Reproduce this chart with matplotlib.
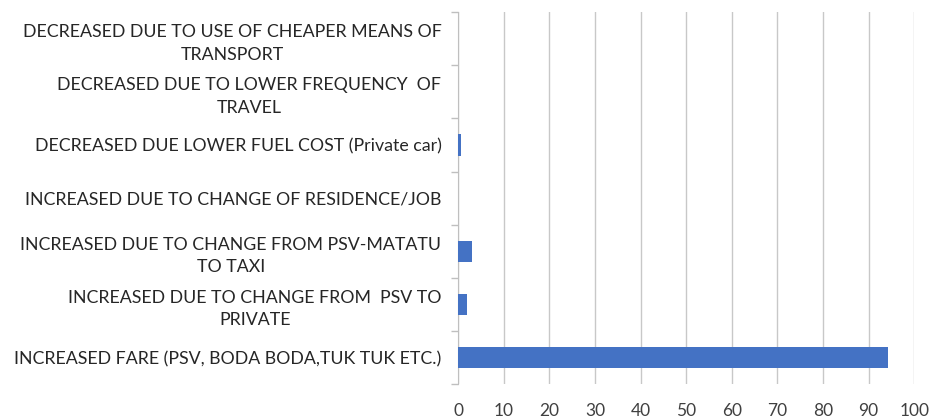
import matplotlib.pyplot as plt
import numpy as np

# share of respondents by reason for change in transport spending (%)
reasons = [
    "INCREASED FARE (PSV, BODA BODA,TUK TUK ETC.)",
    "INCREASED DUE TO CHANGE FROM  PSV TO\nPRIVATE",
    "INCREASED DUE TO CHANGE FROM PSV-MATATU\nTO TAXI",
    "INCREASED DUE TO CHANGE OF RESIDENCE/JOB",
    "DECREASED DUE LOWER FUEL COST (Private car)",
    "DECREASED DUE TO LOWER FREQUENCY  OF\nTRAVEL",
    "DECREASED DUE TO USE OF CHEAPER MEANS OF\nTRANSPORT",
]
shares = [94.3, 2.0, 3.1, 0.0, 0.6, 0.0, 0.0]
x_ticks = list(range(0, 101, 10))

plt.rcParams["font.family"] = ["Lato", "DejaVu Sans"]

fig = plt.figure(figsize=(9.31, 4.19), dpi=100)
ax = fig.add_axes([0.492, 0.0835, 0.49, 0.8875])

pos = np.arange(len(reasons))
ax.barh(pos, shares, height=0.4, color="#4472C4", zorder=3)

ax.set_xlim(0, 100)
ax.set_ylim(-0.5, len(reasons) - 0.5)
ax.set_xticks(x_ticks)
ax.xaxis.grid(True, color="#c8c8c8", linewidth=1.0, zorder=0)

ax.set_yticks(pos)
ax.set_yticklabels(reasons, multialignment="center", linespacing=1.5)
ax.set_yticks(np.arange(-0.5, len(reasons)), minor=True)
ax.tick_params(axis="y", which="major", length=0, pad=12, labelsize=12.8, labelcolor="#262626")
ax.tick_params(axis="y", which="minor", length=5, color="#bfbfbf", width=1)
ax.tick_params(axis="x", length=0, pad=14, labelsize=12.5, labelcolor="#404040")

for side in ["top", "right", "bottom"]:
    ax.spines[side].set_visible(False)
ax.spines["left"].set_color("#bfbfbf")

fig.savefig("out.png", dpi=100)
